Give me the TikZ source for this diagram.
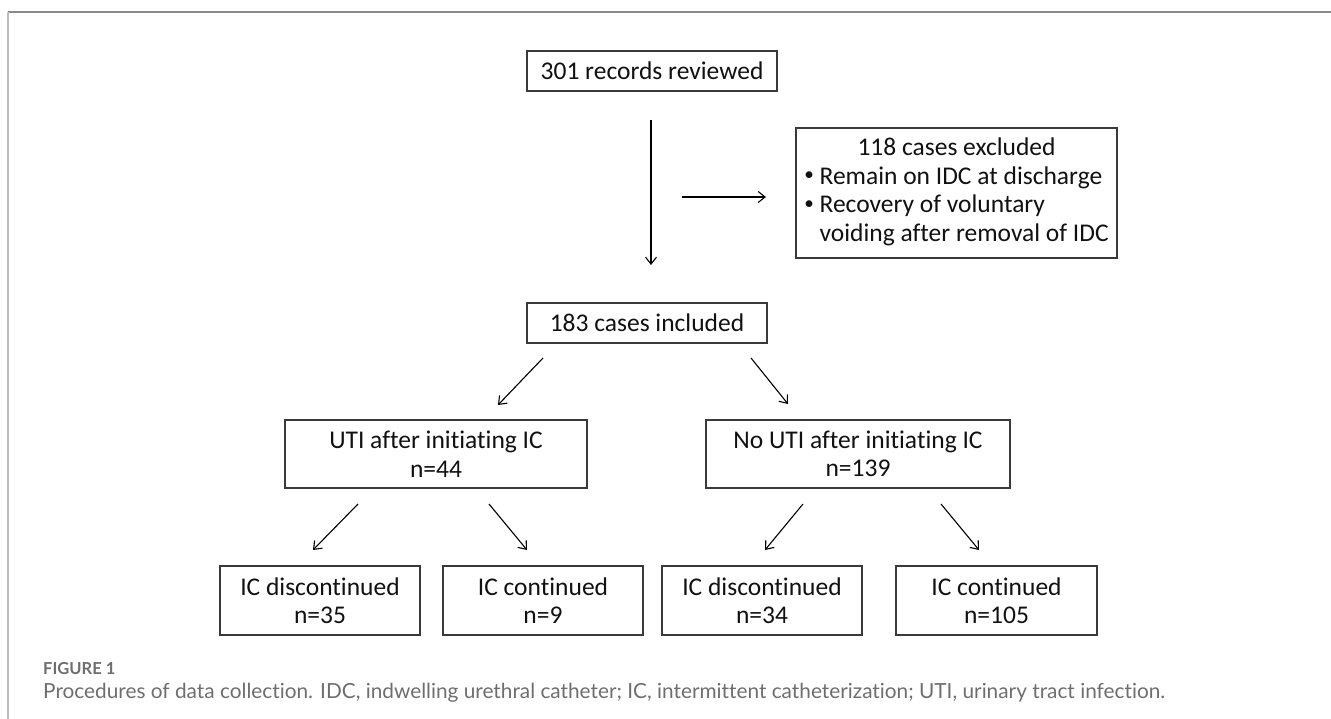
\documentclass[tikz,border=0pt]{standalone}
\usepackage{fontspec}
\setmainfont{Carlito}[Ligatures=NoCommon]
\newfontfamily\capfont{Lato}[Ligatures=NoCommon]
\usetikzlibrary{arrows.meta}
\definecolor{boxline}{HTML}{3A3A3A}
\definecolor{txt}{HTML}{111111}
\definecolor{capgray}{HTML}{6E6E6E}
\definecolor{topgray}{HTML}{8A8A8A}
\definecolor{leftgray}{HTML}{BDBDBD}
\newcommand{\smbullet}{\raisebox{0.15em}{\scalebox{0.75}{\textbullet}}}
\begin{document}
\begin{tikzpicture}[x=1pt,y=-1pt,
  box/.style={draw=boxline, line width=1.3pt, inner sep=0pt, align=center, text=txt,
    font=\fontsize{25.5}{28.5}\selectfont},
  arr/.style={draw=black, line width=1.1pt, -{Straight Barb[length=7pt,width=11pt,line width=1.1pt]}},
  frametop/.style={draw=topgray, line width=1.4pt},
  frameleft/.style={draw=leftgray, line width=1.4pt}
]
\useasboundingbox (0,0) rectangle (1331,719);
% frame
\coordinate (fTL) at (8,12);
\coordinate (fTR) at (1331,12);
\coordinate (fBL) at (8,719);
\draw[frametop] (fTL) -- (fTR);
\draw[frameleft] (fTL) -- (fBL);

% boxes
\node[box, minimum width=250, minimum height=40] (rev) at (652,71) {301 records reviewed};
\node[box, minimum width=321, minimum height=130] (excl) at (956.5,193)
  {\begin{tabular}{@{}l@{}}\multicolumn{1}{@{}c@{}}{118 cases excluded}\\
   \smbullet\ Remain on IDC at discharge\\
   \smbullet\ Recovery of voluntary\\
   \phantom{\smbullet\ }voiding after removal of IDC\end{tabular}};
\node[box, minimum width=240, minimum height=40] (inc) at (647,323) {183 cases included};
\node[box, minimum width=302, minimum height=68] (uti) at (436,454) {UTI after initiating IC\\n=44};
\node[box, minimum width=304, minimum height=68] (nouti) at (858,454) {No UTI after initiating IC\\n=139};
\node[box, minimum width=200, minimum height=69] (d1) at (320,600.5) {IC discontinued\\n=35};
\node[box, minimum width=200, minimum height=69] (c1) at (543,600.5) {IC continued\\n=9};
\node[box, minimum width=200, minimum height=69] (d2) at (762,600.5) {IC discontinued\\n=34};
\node[box, minimum width=201, minimum height=69] (c2) at (996.5,600.5) {IC continued\\n=105};

% arrow end points
\coordinate (v1) at (651,120);  \coordinate (v2) at (651,265);
\coordinate (h1) at (682,197);  \coordinate (h2) at (766,197);
\coordinate (iL1) at (543,358); \coordinate (iL2) at (498,405);
\coordinate (iR1) at (751,358); \coordinate (iR2) at (788,404);
\coordinate (uL1) at (358,504); \coordinate (uL2) at (313,550);
\coordinate (uR1) at (489,504); \coordinate (uR2) at (527,550);
\coordinate (nL1) at (803,504); \coordinate (nL2) at (765,550);
\coordinate (nR1) at (941,504); \coordinate (nR2) at (979,550);

\draw[arr] (v1) -- (v2);
\draw[arr] (h1) -- (h2);
\draw[arr] (iL1) -- (iL2);
\draw[arr] (iR1) -- (iR2);
\draw[arr] (uL1) -- (uL2);
\draw[arr] (uR1) -- (uR2);
\draw[arr] (nL1) -- (nL2);
\draw[arr] (nR1) -- (nR2);

% caption
\node[anchor=base west, inner sep=0pt, text=capgray, font=\capfont\bfseries\fontsize{16.5}{18}\selectfont] (figlab) at (43,674) {FIGURE 1};
\node[anchor=base west, inner sep=0pt, text=capgray, font=\capfont\fontsize{20.8}{22}\selectfont] (figcap) at (43,698)
  {Procedures of data collection. IDC, indwelling urethral catheter; IC, intermittent catheterization; UTI, urinary tract infection.};
\end{tikzpicture}
\end{document}
